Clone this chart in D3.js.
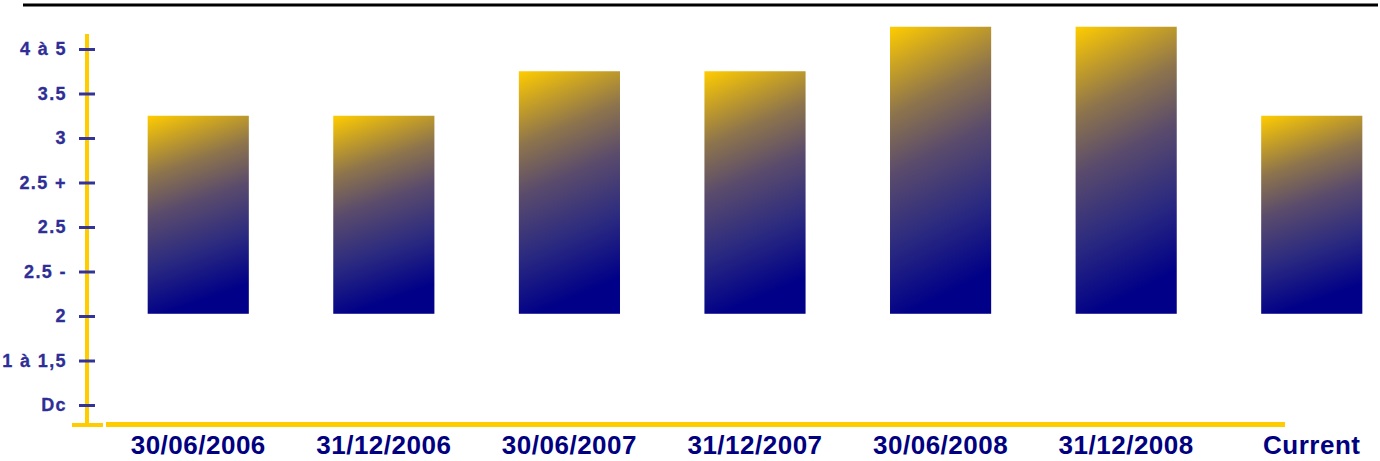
<!DOCTYPE html>
<html>
<head>
<meta charset="utf-8">
<script src="https://cdn.jsdelivr.net/npm/d3@7"></script>
<style>
  html, body { margin: 0; padding: 0; background: #ffffff; }
  svg { display: block; }
</style>
</head>
<body>
<svg id="chart" width="1380" height="461"></svg>
<script>
// ---- data ----
const categories = ["30/06/2006", "31/12/2006", "30/06/2007", "31/12/2007", "30/06/2008", "31/12/2008", "Current"];
const ratingLevels = ["Dc", "1 à 1,5", "2", "2.5 -", "2.5", "2.5 +", "3", "3.5", "4 à 5"]; // bottom -> top
const ratingValues = ["3", "3", "3.5", "3.5", "4 à 5", "4 à 5", "3"];
const baseLevel = "2";

// ---- setup ----
const svg = d3.select("#chart");
const axisX = 87, axisBottom = 425, axisTop = 34, axisRight = 1285;

const y = d3.scalePoint().domain(ratingLevels).range([405, 49]);
const x = d3.scaleBand().domain(categories).range([92, 1418]).paddingInner(0.455).paddingOuter(0.3);

// gradient
const defs = svg.append("defs");
const grad = defs.append("linearGradient").attr("id", "barGrad")
  .attr("x1", "0").attr("y1", "0").attr("x2", "0.18").attr("y2", "1");
[["0", "#ffcc00"], ["0.14", "#c9a224"], ["0.3", "#8d744c"], ["0.5", "#5a4b6c"], ["0.75", "#2b2a80"], ["1", "#000088"]]
  .forEach(([o, c]) => grad.append("stop").attr("offset", o).attr("stop-color", c));

// top rule
svg.append("line").attr("x1", 23).attr("x2", 1378).attr("y1", 5).attr("y2", 5)
  .attr("stroke", "#000").attr("stroke-width", 3);

// bars
const half = y.step() / 2;
const baseY = y(baseLevel) - y.step() * 0.05;
svg.append("g").selectAll("rect").data(categories).join("rect")
  .attr("x", d => x(d))
  .attr("width", x.bandwidth())
  .attr("y", (d, i) => y(ratingValues[i]) - half)
  .attr("height", (d, i) => baseY - (y(ratingValues[i]) - half))
  .attr("fill", "url(#barGrad)");

// axes lines (yellow)
svg.append("line").attr("x1", axisX).attr("x2", axisX).attr("y1", axisTop).attr("y2", axisBottom)
  .attr("stroke", "#ffcc00").attr("stroke-width", 4);
svg.append("line").attr("x1", 72).attr("x2", 103).attr("y1", axisBottom).attr("y2", axisBottom)
  .attr("stroke", "#ffcc00").attr("stroke-width", 4);
svg.append("line").attr("x1", 106).attr("x2", axisRight).attr("y1", axisBottom - 0.5).attr("y2", axisBottom - 0.5)
  .attr("stroke", "#ffcc00").attr("stroke-width", 5);

// y axis ticks + labels
const yAxis = d3.axisLeft(y).tickSize(0).tickPadding(20);
const gy = svg.append("g").attr("transform", `translate(${axisX},0)`).call(yAxis);
gy.select(".domain").remove();
gy.selectAll(".tick").append("line")
  .attr("x1", -8).attr("x2", 8).attr("stroke", "#333399").attr("stroke-width", 3);
gy.selectAll(".tick text")
  .attr("fill", "#2e2e96")
  .attr("stroke", "#2e2e96").attr("stroke-width", 0.3)
  .style("font-family", "'Liberation Sans', Arial, sans-serif")
  .style("font-weight", "bold")
  .style("font-size", "18px")
  .style("letter-spacing", "1.4px");

// x axis labels
const xAxis = d3.axisBottom(x).tickSize(0).tickPadding(11);
const gx = svg.append("g").attr("transform", `translate(0,${axisBottom})`).call(xAxis);
gx.select(".domain").remove();
gx.selectAll(".tick text")
  .attr("fill", "#000080")
  .style("font-family", "'Liberation Sans', Arial, sans-serif")
  .style("font-weight", "bold")
  .style("font-size", "26px")
  .style("letter-spacing", "0.5px");
</script>
</body>
</html>
